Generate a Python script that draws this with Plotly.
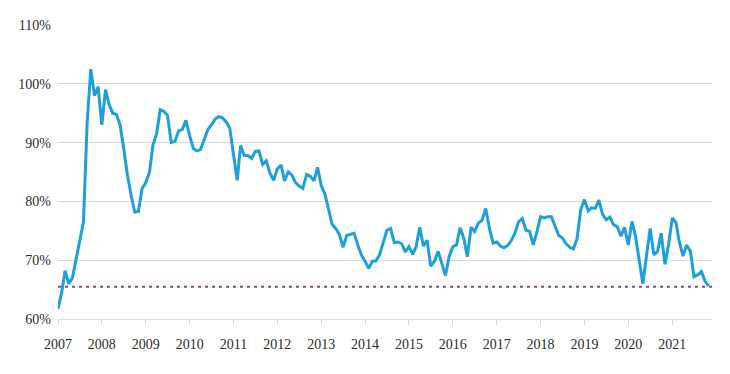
import plotly.graph_objects as go
import pandas as pd

start_month = "2007-01-01"
ratio_pct = [
    61.7, 64.5, 68.2, 66.0, 67.0, 70.0, 73.5, 76.5, 93.5, 102.5, 98.0, 99.5,
    93.0, 99.0, 96.5, 95.0, 94.8, 93.0, 89.0, 84.5, 81.0, 78.2, 78.3, 82.2,
    83.2, 85.0, 89.5, 91.5, 95.6, 95.3, 94.6, 90.0, 90.2, 92.0, 92.2, 93.8,
    91.2, 89.0, 88.6, 88.8, 90.4, 92.2, 93.0, 94.0, 94.4, 94.2, 93.5, 92.5,
    88.0, 83.6, 89.5, 87.8, 87.8, 87.3, 88.5, 88.6, 86.3, 86.9, 84.8, 83.6,
    85.5, 86.2, 83.5, 85.0, 84.5, 83.2, 82.6, 82.2, 84.6, 84.3, 83.5, 85.8,
    82.7, 81.2, 78.8, 76.1, 75.4, 74.4, 72.2, 74.2, 74.4, 74.6, 72.6, 70.9,
    69.8, 68.6, 69.8, 69.9, 70.9, 73.2, 75.1, 75.4, 73.0, 73.1, 72.8, 71.4,
    72.3, 71.0, 72.3, 75.6, 72.4, 73.4, 69.0, 69.8, 71.5, 69.5, 67.4, 70.6,
    72.3, 72.6, 75.5, 73.8, 70.6, 75.6, 74.9, 76.3, 76.8, 78.8, 75.4, 72.9,
    73.1, 72.4, 72.1, 72.5, 73.3, 74.6, 76.5, 77.1, 75.1, 74.9, 72.6, 74.8,
    77.4, 77.2, 77.4, 77.4, 75.9, 74.2, 73.8, 72.8, 72.2, 71.9, 73.7, 78.6,
    80.3, 78.4, 78.9, 78.8, 80.2, 77.8, 76.9, 77.3, 76.0, 75.7, 74.1, 75.6,
    72.6, 76.6, 74.1, 69.9, 66.0, 70.8, 75.4, 70.9, 71.5, 74.6, 69.3, 72.6,
    77.2, 76.4, 73.1, 70.7, 72.6, 71.5, 67.2, 67.5, 68.1, 66.4, 65.6,
]
reference_level = 65.5
y_tick_values = [60, 70, 80, 90, 100, 110]
y_tick_labels = ["60%", "70%", "80%", "90%", "100%", "110%"]

dates = pd.date_range(start_month, periods=len(ratio_pct), freq="MS")

serif = "Liberation Serif"
text_color = "#2b2b2b"

fig = go.Figure()
fig.add_trace(go.Scatter(
    x=dates, y=ratio_pct, mode="lines",
    line=dict(color="#1f9fd9", width=3),
    hoverinfo="skip", showlegend=False,
))
fig.add_trace(go.Scatter(
    x=[pd.Timestamp("2007-01-01"), pd.Timestamp("2021-11-28")],
    y=[reference_level, reference_level], mode="lines",
    line=dict(color="#9b3c9e", width=2, dash="3px,4px"),
    hoverinfo="skip", showlegend=False,
))

fig.update_layout(
    width=714, height=358,
    margin=dict(l=50, r=10, t=15, b=47),
    paper_bgcolor="white", plot_bgcolor="white",
    font=dict(family=serif, size=14, color=text_color),
    xaxis=dict(
        type="date",
        range=["2007-01-01", "2021-11-28"],
        dtick="M12", tick0="2007-01-01", tickformat="%Y",
        showgrid=False, showline=True, linecolor="#d9d9d9", linewidth=1,
        ticks="outside", ticklen=5, tickcolor="#d9d9d9",
        ticklabelstandoff=7,
        tickfont=dict(family=serif, size=14, color=text_color),
    ),
    yaxis=dict(
        range=[60, 110], tickmode="array",
        tickvals=y_tick_values, ticktext=y_tick_labels,
        showgrid=True, gridcolor="#d9d9d9", gridwidth=1,
        zeroline=False, showline=False,
        ticks="", ticklabelstandoff=6,
        tickfont=dict(family=serif, size=14, color=text_color),
    ),
)

fig.write_html("out.html")
